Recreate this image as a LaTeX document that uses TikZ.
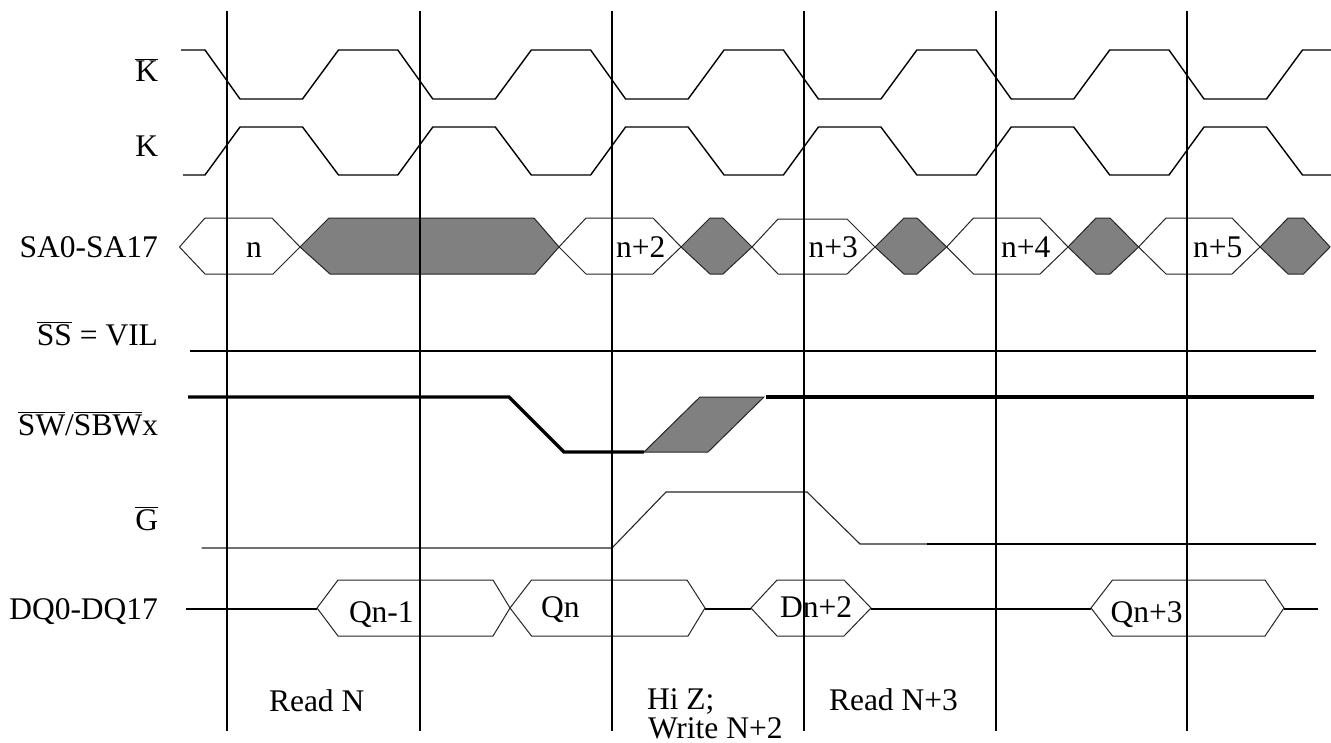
\documentclass[tikz,border=0pt]{standalone}
\usepackage{fontspec}
\setmainfont{Liberation Serif}
\newcommand\myovl[1]{\setbox0\hbox{#1}\rlap{\rule[\dimexpr\ht0+0.7pt\relax]{\wd0}{0.55pt}}\box0\relax}
\tikzset{
  lbl/.style={inner sep=0pt, outer sep=0pt, font=\fontsize{15.75}{18}\selectfont},
  grid/.style={line width=1pt, black},
  sig/.style={line width=0.7pt, black, line join=miter},
  thinsig/.style={line width=0.55pt, black!85},
  bus/.style={line width=1pt, black},
  thick sig/.style={line width=1.6pt, black},
  hexw/.style={line width=0.5pt, draw=black!85, fill=white},
  hexg/.style={line width=0.5pt, draw=black!85, fill=black!50},
}
\begin{document}
\begin{tikzpicture}[x=0.5pt,y=-0.5pt]
\useasboundingbox[fill=white] (0,0) rectangle (1331,743);

% vertical cycle lines (coordinates)
\foreach \xx/\nm in {227/v1,419.5/v2,611.7/v3,803.5/v4,995.8/v5,1187/v6}{
  \coordinate (\nm t) at (\xx,11);
  \coordinate (\nm b) at (\xx,731);
}

% K-bar
\draw[sig] (181,50) foreach \k in {0,...,5} {
  -- ({205+192.8*\k},50) -- ({240+192.8*\k},99) -- ({302.5+192.8*\k},99) -- ({338.5+192.8*\k},50) } -- (1331,50);
% K
\draw[sig] (183,175) foreach \k in {0,...,5} {
  -- ({205+192.8*\k},175) -- ({240+192.8*\k},127) -- ({302.5+192.8*\k},127) -- ({338.5+192.8*\k},175) } -- (1331,175);

% SA bus
\draw[hexw] (179.5,247)--(205,218)--(272,218)--(300,247)--(273,274)--(205,274)--cycle;
\draw[hexg] (300,247)--(329,218)--(534,218)--(559,247)--(535,274)--(330,274)--cycle;
\draw[hexw] (559,247)--(586,218)--(653,218)--(681,247)--(653,274)--(586,274)--cycle;
\draw[hexg] (681,247)--(710,218)--(723,218)--(752,247)--(723,274)--(710,274)--cycle;
\draw[hexw] (752,247)--(778,219)--(847,219)--(875,247)--(847,274)--(778,274)--cycle;
\draw[hexg] (875,247)--(904,218)--(917,218)--(946.6,247)--(917,274)--(904,274)--cycle;
\draw[hexw] (946.6,247)--(973.5,218)--(1040,218)--(1068,247)--(1040,274)--(973.5,274)--cycle;
\draw[hexg] (1068,247)--(1096,218)--(1110,218)--(1138.6,247)--(1110,274)--(1096,274)--cycle;
\draw[hexw] (1138.6,247)--(1166,218)--(1232,218)--(1260,247)--(1232,274)--(1166,274)--cycle;
\draw[hexg] (1260,247)--(1288,218)--(1303.5,218)--(1330,247)--(1303.5,274)--(1288,274)--cycle;

% SS = VIL
\draw[bus] (190,351) -- (1316,351);

% SW/SBWx
\draw[thick sig] (188,397) -- (509,397) -- (564,452) -- (644,452);
\draw[hexg] (644,452) -- (708,452) -- (764,397) -- (700,397) -- cycle;
\draw[thick sig] (766,397) -- (1314,397);

% G-bar
\draw[thinsig] (201.5,548) -- (612,548) -- (666,492) -- (807,492) -- (860,544) -- (927,544);
\draw[bus] (927,544) -- (1316,544);

% DQ bus
\draw[bus] (186,609) -- (317,609);
\draw[hexw] (317,608)--(338,580)--(493,580)--(510,608)--(493,636)--(338,636)--cycle;
\draw[hexw] (510,608)--(531.5,580)--(687,580)--(705,608)--(688,636)--(531.5,636)--cycle;
\draw[bus] (705,609) -- (751,609);
\draw[hexw] (751,608)--(777,580)--(844,580)--(871,608)--(844,636)--(777,636)--cycle;
\draw[bus] (871,609) -- (1091,609);
\draw[hexw] (1091,608)--(1112.5,580)--(1265,580)--(1284,608)--(1265,636)--(1112.5,636)--cycle;
\draw[bus] (1284,609) -- (1318,609);

% vertical lines on top
\foreach \nm in {v1,v2,v3,v4,v5,v6}{ \draw[grid] (\nm t) -- (\nm b); }

% signal labels
\node[lbl, anchor=base east] (lkb) at (158,82) {\myovl{K}};
\node[lbl, anchor=base east] (lk) at (158,157) {K};
\node[lbl, anchor=base east] (lsa) at (158,257) {SA0-SA17};
\node[lbl, anchor=base east] (lss) at (158,345) {\myovl{SS} = VIL};
\node[lbl, anchor=base east] (lsw) at (158,435) {\myovl{SW}/\myovl{SBW}x};
\node[lbl, anchor=base east] (lg) at (158,530) {\myovl{G}};
\node[lbl, anchor=base east] (ldq) at (158,619) {DQ0-DQ17};

% SA values
\node[lbl, anchor=base] (san) at (254,257) {n};
\node[lbl, anchor=base west] (san2) at (616,257) {n+2};
\node[lbl, anchor=base west] (san3) at (808.5,257) {n+3};
\node[lbl, anchor=base west] (san4) at (1001,257) {n+4};
\node[lbl, anchor=base west] (san5) at (1193,257) {n+5};

% DQ values
\node[lbl, anchor=base west] (dq1) at (349,622) {Qn-1};
\node[lbl, anchor=base west] (dq2) at (541,617) {Qn};
\node[lbl, anchor=base west] (dq3) at (780,617) {Dn+2};
\node[lbl, anchor=base west] (dq4) at (1110.5,622) {Qn+3};

% cycle labels
\node[lbl, anchor=base west] (c1) at (269,711) {Read N};
\node[lbl, anchor=base west] (c2) at (647,709) {Hi Z;};
\node[lbl, anchor=base west] (c3) at (648,738) {Write N+2};
\node[lbl, anchor=base west] (c4) at (829,710) {Read N+3};
\end{tikzpicture}
\end{document}
